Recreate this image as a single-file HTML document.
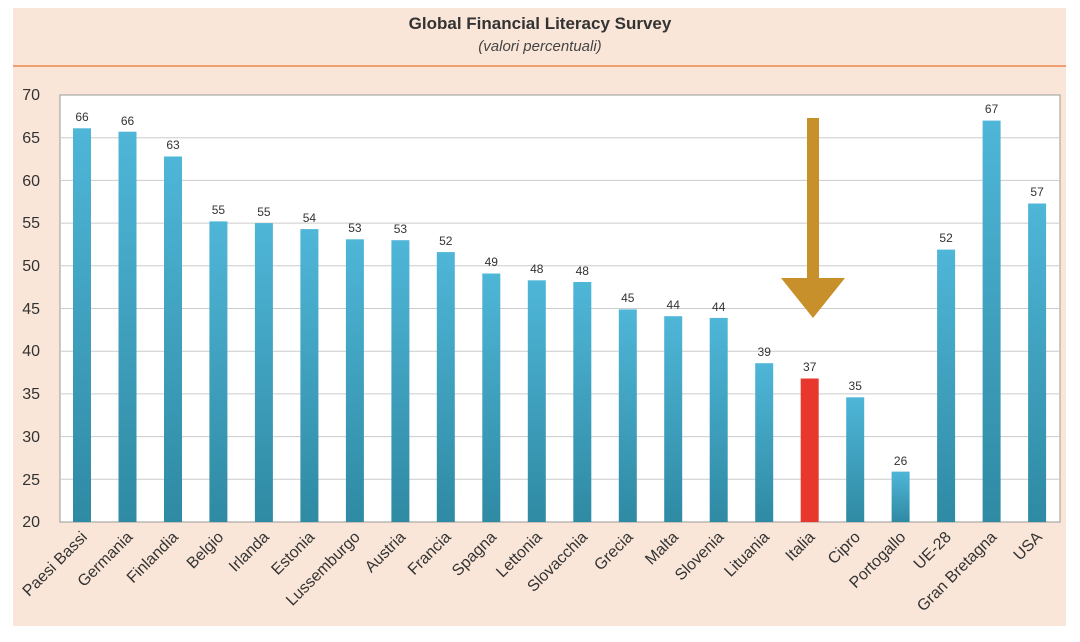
<!DOCTYPE html><html><head><style>body{margin:0;background:#fff;width:1080px;height:637px;overflow:hidden}</style></head><body>
<svg width="1080" height="637" xmlns="http://www.w3.org/2000/svg" font-family="Liberation Sans, sans-serif">
<defs><linearGradient id="g" x1="0" y1="0" x2="0" y2="1"><stop offset="0" stop-color="#4fb6d8"/><stop offset="1" stop-color="#2f8aa3"/></linearGradient></defs>
<rect x="13" y="8" width="1053" height="618" fill="#fae6d8"/>
<line x1="13" y1="66" x2="1066" y2="66" stroke="#f0a070" stroke-width="2"/>
<text x="540" y="29" text-anchor="middle" font-size="17" font-weight="bold" fill="#333">Global Financial Literacy Survey</text>
<text x="540" y="51" text-anchor="middle" font-size="15" font-style="italic" fill="#444">(valori percentuali)</text>
<rect x="60" y="95" width="1000" height="427" fill="#fff" stroke="#999"/>
<g stroke="#ccc">
<line x1="60" y1="137.7" x2="1060" y2="137.7"/><line x1="60" y1="180.4" x2="1060" y2="180.4"/><line x1="60" y1="223.1" x2="1060" y2="223.1"/><line x1="60" y1="265.8" x2="1060" y2="265.8"/><line x1="60" y1="308.5" x2="1060" y2="308.5"/><line x1="60" y1="351.2" x2="1060" y2="351.2"/><line x1="60" y1="393.9" x2="1060" y2="393.9"/><line x1="60" y1="436.6" x2="1060" y2="436.6"/><line x1="60" y1="479.3" x2="1060" y2="479.3"/>
</g>
<g font-size="16" fill="#333" text-anchor="end">
<text x="40" y="100">70</text><text x="40" y="143">65</text><text x="40" y="186">60</text><text x="40" y="228">55</text><text x="40" y="271">50</text><text x="40" y="314">45</text><text x="40" y="356">40</text><text x="40" y="399">35</text><text x="40" y="442">30</text><text x="40" y="485">25</text><text x="40" y="527">20</text>
</g>
<g fill="url(#g)">
<rect x="73" y="128.3" width="18" height="393.7"/>
<rect x="118.5" y="131.7" width="18" height="390.3"/>
<rect x="164" y="156.5" width="18" height="365.5"/>
<rect x="209.4" y="221.4" width="18" height="300.6"/>
<rect x="254.9" y="223.1" width="18" height="298.9"/>
<rect x="300.4" y="229.1" width="18" height="292.9"/>
<rect x="345.9" y="239.3" width="18" height="282.7"/>
<rect x="391.4" y="240.2" width="18" height="281.8"/>
<rect x="436.8" y="252.1" width="18" height="269.9"/>
<rect x="482.3" y="273.5" width="18" height="248.5"/>
<rect x="527.8" y="280.3" width="18" height="241.7"/>
<rect x="573.3" y="282" width="18" height="240"/>
<rect x="618.8" y="309.4" width="18" height="212.6"/>
<rect x="664.2" y="316.2" width="18" height="205.8"/>
<rect x="709.7" y="317.9" width="18" height="204.1"/>
<rect x="755.2" y="363.2" width="18" height="158.8"/>
<rect x="846.2" y="397.3" width="18" height="124.7"/>
<rect x="891.6" y="471.6" width="18" height="50.4"/>
<rect x="937.1" y="249.6" width="18" height="272.4"/>
<rect x="982.6" y="120.6" width="18" height="401.4"/>
<rect x="1028.1" y="203.5" width="18" height="318.5"/>
</g>
<rect x="800.7" y="378.5" width="18" height="143.5" fill="#e8382e"/>
<g font-size="12" fill="#333" text-anchor="middle">
<text x="82" y="121">66</text><text x="127.5" y="125">66</text><text x="173" y="149">63</text><text x="218.4" y="214">55</text><text x="263.9" y="216">55</text><text x="309.4" y="222">54</text><text x="354.9" y="232">53</text><text x="400.4" y="233">53</text><text x="445.8" y="245">52</text><text x="491.3" y="266">49</text><text x="536.8" y="273">48</text><text x="582.3" y="275">48</text><text x="627.8" y="302">45</text><text x="673.2" y="309">44</text><text x="718.7" y="311">44</text><text x="764.2" y="356">39</text><text x="809.7" y="371">37</text><text x="855.2" y="390">35</text><text x="900.6" y="465">26</text><text x="946.1" y="242">52</text><text x="991.6" y="113">67</text><text x="1037.1" y="196">57</text>
</g>
<g font-size="16" fill="#333" text-anchor="end">
<text transform="translate(88,538) rotate(-45)">Paesi Bassi</text>
<text transform="translate(133.5,538) rotate(-45)">Germania</text>
<text transform="translate(179,538) rotate(-45)">Finlandia</text>
<text transform="translate(224.4,538) rotate(-45)">Belgio</text>
<text transform="translate(269.9,538) rotate(-45)">Irlanda</text>
<text transform="translate(315.4,538) rotate(-45)">Estonia</text>
<text transform="translate(360.9,538) rotate(-45)">Lussemburgo</text>
<text transform="translate(406.4,538) rotate(-45)">Austria</text>
<text transform="translate(451.8,538) rotate(-45)">Francia</text>
<text transform="translate(497.3,538) rotate(-45)">Spagna</text>
<text transform="translate(542.8,538) rotate(-45)">Lettonia</text>
<text transform="translate(588.3,538) rotate(-45)">Slovacchia</text>
<text transform="translate(633.8,538) rotate(-45)">Grecia</text>
<text transform="translate(679.2,538) rotate(-45)">Malta</text>
<text transform="translate(724.7,538) rotate(-45)">Slovenia</text>
<text transform="translate(770.2,538) rotate(-45)">Lituania</text>
<text transform="translate(815.7,538) rotate(-45)">Italia</text>
<text transform="translate(861.2,538) rotate(-45)">Cipro</text>
<text transform="translate(906.6,538) rotate(-45)">Portogallo</text>
<text transform="translate(952.1,538) rotate(-45)">UE-28</text>
<text transform="translate(997.6,538) rotate(-45)">Gran Bretagna</text>
<text transform="translate(1043.1,538) rotate(-45)">USA</text>
</g>
<polygon points="807,118 819,118 819,278 845,278 813,318 781,278 807,278" fill="#c8902a"/>
</svg></body></html>
